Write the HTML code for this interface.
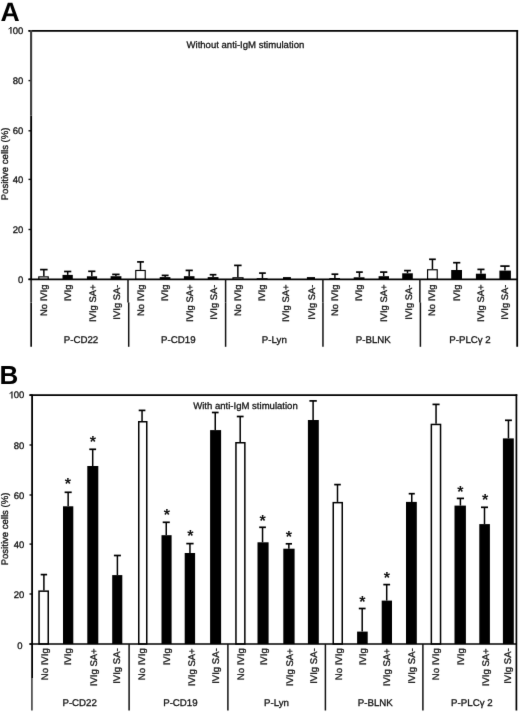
<!DOCTYPE html>
<html><head><meta charset="utf-8"><style>
html,body{margin:0;padding:0;background:#fff;}
body{width:520px;height:713px;overflow:hidden;}
svg{display:block;font-family:"Liberation Sans", sans-serif;will-change:transform;text-rendering:geometricPrecision;}
.t{stroke:#111;stroke-width:0.3px;}
</style></head><body>
<svg width="520" height="713" viewBox="0 0 520 713">
<defs><filter id="bl" x="0" y="0" width="520" height="713" filterUnits="userSpaceOnUse" color-interpolation-filters="sRGB"><feConvolveMatrix order="3" kernelMatrix="0.00524 0.06192 0.00524 0.06192 0.73137 0.06192 0.00524 0.06192 0.00524" divisor="1" edgeMode="duplicate"/></filter></defs>
<rect width="520" height="713" fill="#fff"/>
<g filter="url(#bl)">
<rect width="520" height="713" fill="#fff"/>
<line x1="28.5" y1="30.8" x2="31.1" y2="30.8" stroke="#111" stroke-width="1.4"/>
<text transform="translate(23.40,33.75) scale(1,1.0)" text-anchor="end" font-size="9.5" fill="#111" class="t">00</text>
<path d="M10.97,27.00V33.85" stroke="#111" stroke-width="1.2" fill="none"/>
<path d="M10.87,27.20C10.17,28.30 9.27,28.80 8.57,29.00" stroke="#111" stroke-width="1.0" fill="none"/>
<line x1="28.5" y1="80.6" x2="31.1" y2="80.6" stroke="#111" stroke-width="1.4"/>
<text transform="translate(23.40,83.85) scale(1,1.0)" text-anchor="end" font-size="9.5" fill="#111" class="t">80</text>
<line x1="28.5" y1="130.8" x2="31.1" y2="130.8" stroke="#111" stroke-width="1.4"/>
<text transform="translate(23.40,134.35) scale(1,1.0)" text-anchor="end" font-size="9.5" fill="#111" class="t">60</text>
<line x1="28.5" y1="179.4" x2="31.1" y2="179.4" stroke="#111" stroke-width="1.4"/>
<text transform="translate(23.40,183.00) scale(1,1.0)" text-anchor="end" font-size="9.5" fill="#111" class="t">40</text>
<line x1="28.5" y1="229.5" x2="31.1" y2="229.5" stroke="#111" stroke-width="1.4"/>
<text transform="translate(23.40,233.20) scale(1,1.0)" text-anchor="end" font-size="9.5" fill="#111" class="t">20</text>
<line x1="28.5" y1="279.3" x2="31.1" y2="279.3" stroke="#111" stroke-width="1.4"/>
<text transform="translate(23.40,282.90) scale(1,1.0)" text-anchor="end" font-size="9.5" fill="#111" class="t">0</text>
<text transform="translate(8.30,163.90) rotate(-90) scale(1,1.0)" text-anchor="middle" font-size="9.55" fill="#111" class="t">Positive cells (%)</text>
<text transform="translate(186.50,47.60) scale(1,1.0)" font-size="9.55" fill="#111" class="t">Without anti-IgM stimulation</text>
<line x1="43.85" y1="269.6" x2="43.85" y2="276.3" stroke="#000" stroke-width="1.5"/>
<line x1="40.1" y1="269.6" x2="47.6" y2="269.6" stroke="#000" stroke-width="1.7"/>
<rect x="38.78" y="276.88" width="9.45" height="2.48" fill="#fff" stroke="#000" stroke-width="1.15"/>
<text transform="translate(46.50,284.50) rotate(-90) scale(1,1.0)" text-anchor="end" font-size="9.45" fill="#111" class="t">No IVIg</text>
<line x1="67.69999999999999" y1="271.5" x2="67.69999999999999" y2="274.9" stroke="#000" stroke-width="1.5"/>
<line x1="64.1" y1="271.5" x2="71.3" y2="271.5" stroke="#000" stroke-width="1.7"/>
<rect x="62.5" y="274.9" width="10.30" height="4.45" fill="#000"/>
<text transform="translate(71.05,284.50) rotate(-90) scale(1,1.0)" text-anchor="end" font-size="9.45" fill="#111" class="t">IVIg</text>
<line x1="91.80000000000001" y1="271.3" x2="91.80000000000001" y2="276.3" stroke="#000" stroke-width="1.5"/>
<line x1="88.2" y1="271.3" x2="95.4" y2="271.3" stroke="#000" stroke-width="1.7"/>
<rect x="86.9" y="276.3" width="10.20" height="3.05" fill="#000"/>
<text transform="translate(95.60,284.50) rotate(-90) scale(1,1.0)" text-anchor="end" font-size="9.45" fill="#111" class="t">IVIg SA+</text>
<line x1="115.9" y1="274.4" x2="115.9" y2="276.2" stroke="#000" stroke-width="1.5"/>
<line x1="112.2" y1="274.4" x2="119.6" y2="274.4" stroke="#000" stroke-width="1.7"/>
<rect x="110.6" y="276.2" width="10.80" height="3.15" fill="#000"/>
<text transform="translate(119.70,284.50) rotate(-90) scale(1,1.0)" text-anchor="end" font-size="9.45" fill="#111" class="t">IVIg SA-</text>
<line x1="140.5" y1="261.9" x2="140.5" y2="269.9" stroke="#000" stroke-width="1.5"/>
<line x1="137.1" y1="261.9" x2="143.9" y2="261.9" stroke="#000" stroke-width="1.7"/>
<rect x="135.77" y="270.47" width="9.45" height="8.88" fill="#fff" stroke="#000" stroke-width="1.15"/>
<text transform="translate(143.90,284.50) rotate(-90) scale(1,1.0)" text-anchor="end" font-size="9.45" fill="#111" class="t">No IVIg</text>
<line x1="165.14999999999998" y1="275.4" x2="165.14999999999998" y2="277.1" stroke="#000" stroke-width="1.5"/>
<line x1="161.7" y1="275.4" x2="168.6" y2="275.4" stroke="#000" stroke-width="1.7"/>
<rect x="159.7" y="277.1" width="10.70" height="2.25" fill="#000"/>
<text transform="translate(168.20,284.50) rotate(-90) scale(1,1.0)" text-anchor="end" font-size="9.45" fill="#111" class="t">IVIg</text>
<line x1="189.2" y1="270.4" x2="189.2" y2="276.2" stroke="#000" stroke-width="1.5"/>
<line x1="185.6" y1="270.4" x2="192.8" y2="270.4" stroke="#000" stroke-width="1.7"/>
<rect x="183.9" y="276.2" width="10.60" height="3.15" fill="#000"/>
<text transform="translate(192.90,284.50) rotate(-90) scale(1,1.0)" text-anchor="end" font-size="9.45" fill="#111" class="t">IVIg SA+</text>
<line x1="213.05" y1="274.7" x2="213.05" y2="277.1" stroke="#000" stroke-width="1.5"/>
<line x1="209.7" y1="274.7" x2="216.4" y2="274.7" stroke="#000" stroke-width="1.7"/>
<rect x="207.7" y="277.1" width="10.80" height="2.25" fill="#000"/>
<text transform="translate(216.65,284.50) rotate(-90) scale(1,1.0)" text-anchor="end" font-size="9.45" fill="#111" class="t">IVIg SA-</text>
<line x1="237.85" y1="265.4" x2="237.85" y2="277.2" stroke="#000" stroke-width="1.5"/>
<line x1="234.1" y1="265.4" x2="241.6" y2="265.4" stroke="#000" stroke-width="1.7"/>
<rect x="232.97" y="277.77" width="10.05" height="1.58" fill="#fff" stroke="#000" stroke-width="1.15"/>
<text transform="translate(241.10,284.50) rotate(-90) scale(1,1.0)" text-anchor="end" font-size="9.45" fill="#111" class="t">No IVIg</text>
<line x1="262.45000000000005" y1="273.1" x2="262.45000000000005" y2="278.2" stroke="#000" stroke-width="1.5"/>
<line x1="259.1" y1="273.1" x2="265.8" y2="273.1" stroke="#000" stroke-width="1.7"/>
<rect x="256.7" y="278.2" width="10.90" height="1.15" fill="#000"/>
<text transform="translate(265.40,284.50) rotate(-90) scale(1,1.0)" text-anchor="end" font-size="9.45" fill="#111" class="t">IVIg</text>
<rect x="283.0" y="277.1" width="7.90" height="2.25" fill="#000"/>
<text transform="translate(289.20,284.50) rotate(-90) scale(1,1.0)" text-anchor="end" font-size="9.45" fill="#111" class="t">IVIg SA+</text>
<rect x="306.9" y="277.1" width="8.10" height="2.25" fill="#000"/>
<text transform="translate(314.50,284.50) rotate(-90) scale(1,1.0)" text-anchor="end" font-size="9.45" fill="#111" class="t">IVIg SA-</text>
<line x1="334.9" y1="274.2" x2="334.9" y2="278.1" stroke="#000" stroke-width="1.5"/>
<line x1="331.5" y1="274.2" x2="338.3" y2="274.2" stroke="#000" stroke-width="1.7"/>
<rect x="329.88" y="278.68" width="9.55" height="0.68" fill="#fff" stroke="#000" stroke-width="1.15"/>
<text transform="translate(338.30,284.50) rotate(-90) scale(1,1.0)" text-anchor="end" font-size="9.45" fill="#111" class="t">No IVIg</text>
<line x1="359.45000000000005" y1="272.1" x2="359.45000000000005" y2="277.3" stroke="#000" stroke-width="1.5"/>
<line x1="356.1" y1="272.1" x2="362.8" y2="272.1" stroke="#000" stroke-width="1.7"/>
<rect x="353.7" y="277.3" width="10.80" height="2.05" fill="#000"/>
<text transform="translate(362.20,284.50) rotate(-90) scale(1,1.0)" text-anchor="end" font-size="9.45" fill="#111" class="t">IVIg</text>
<line x1="383.70000000000005" y1="272.1" x2="383.70000000000005" y2="276.2" stroke="#000" stroke-width="1.5"/>
<line x1="380.1" y1="272.1" x2="387.3" y2="272.1" stroke="#000" stroke-width="1.7"/>
<rect x="378.6" y="276.2" width="10.40" height="3.15" fill="#000"/>
<text transform="translate(386.90,284.50) rotate(-90) scale(1,1.0)" text-anchor="end" font-size="9.45" fill="#111" class="t">IVIg SA+</text>
<line x1="407.5" y1="270.6" x2="407.5" y2="273.3" stroke="#000" stroke-width="1.5"/>
<line x1="404.1" y1="270.6" x2="410.9" y2="270.6" stroke="#000" stroke-width="1.7"/>
<rect x="402.2" y="273.3" width="10.60" height="6.05" fill="#000"/>
<text transform="translate(411.80,284.50) rotate(-90) scale(1,1.0)" text-anchor="end" font-size="9.45" fill="#111" class="t">IVIg SA-</text>
<line x1="432.45000000000005" y1="259.3" x2="432.45000000000005" y2="269.2" stroke="#000" stroke-width="1.5"/>
<line x1="429.1" y1="259.3" x2="435.8" y2="259.3" stroke="#000" stroke-width="1.7"/>
<rect x="427.57" y="269.77" width="9.65" height="9.58" fill="#fff" stroke="#000" stroke-width="1.15"/>
<text transform="translate(434.80,284.50) rotate(-90) scale(1,1.0)" text-anchor="end" font-size="9.45" fill="#111" class="t">No IVIg</text>
<line x1="456.70000000000005" y1="262.7" x2="456.70000000000005" y2="270.0" stroke="#000" stroke-width="1.5"/>
<line x1="453.1" y1="262.7" x2="460.3" y2="262.7" stroke="#000" stroke-width="1.7"/>
<rect x="451.2" y="270.0" width="10.80" height="9.35" fill="#000"/>
<text transform="translate(459.65,284.50) rotate(-90) scale(1,1.0)" text-anchor="end" font-size="9.45" fill="#111" class="t">IVIg</text>
<line x1="480.95" y1="269.4" x2="480.95" y2="273.7" stroke="#000" stroke-width="1.5"/>
<line x1="477.4" y1="269.4" x2="484.5" y2="269.4" stroke="#000" stroke-width="1.7"/>
<rect x="475.9" y="273.7" width="10.00" height="5.65" fill="#000"/>
<text transform="translate(484.40,284.50) rotate(-90) scale(1,1.0)" text-anchor="end" font-size="9.45" fill="#111" class="t">IVIg SA+</text>
<line x1="504.95000000000005" y1="266.1" x2="504.95000000000005" y2="270.6" stroke="#000" stroke-width="1.5"/>
<line x1="500.3" y1="266.1" x2="509.6" y2="266.1" stroke="#000" stroke-width="1.7"/>
<rect x="499.4" y="270.6" width="11.50" height="8.75" fill="#000"/>
<text transform="translate(508.40,284.50) rotate(-90) scale(1,1.0)" text-anchor="end" font-size="9.45" fill="#111" class="t">IVIg SA-</text>
<line x1="28.5" y1="30.8" x2="518.1" y2="30.8" stroke="#000" stroke-width="1.8"/>
<line x1="31.1" y1="30.0" x2="31.1" y2="115.6" stroke="#3c3c3c" stroke-width="2.1"/>
<line x1="31.150000000000002" y1="115.6" x2="31.150000000000002" y2="280" stroke="#000" stroke-width="1.9"/>
<line x1="31.150000000000002" y1="280" x2="31.150000000000002" y2="302.4" stroke="#333" stroke-width="1.8"/>
<line x1="31.150000000000002" y1="302.4" x2="31.150000000000002" y2="346.8" stroke="#000" stroke-width="1.6"/>
<line x1="517.2" y1="29.900000000000002" x2="517.2" y2="346.8" stroke="#000" stroke-width="1.8"/>
<line x1="28.5" y1="279.35" x2="517.2" y2="279.35" stroke="#000" stroke-width="1.8"/>
<line x1="128.0" y1="279.35" x2="128.0" y2="302.4" stroke="#111" stroke-width="1.5"/>
<line x1="128.7" y1="302.4" x2="128.7" y2="346.8" stroke="#111" stroke-width="1.5"/>
<line x1="225.6" y1="279.35" x2="225.6" y2="302.4" stroke="#111" stroke-width="1.5"/>
<line x1="225.6" y1="302.4" x2="225.6" y2="346.8" stroke="#111" stroke-width="1.5"/>
<line x1="322.9" y1="279.35" x2="322.9" y2="302.4" stroke="#111" stroke-width="1.5"/>
<line x1="322.95" y1="302.4" x2="322.95" y2="346.8" stroke="#111" stroke-width="1.5"/>
<line x1="419.9" y1="279.35" x2="419.9" y2="302.4" stroke="#111" stroke-width="1.5"/>
<line x1="420.4" y1="302.4" x2="420.4" y2="346.8" stroke="#111" stroke-width="1.5"/>
<text transform="translate(80.95,342.80) scale(1,1.0)" text-anchor="middle" font-size="9.7" fill="#111" class="t">P-CD22</text>
<text transform="translate(178.30,342.80) scale(1,1.0)" text-anchor="middle" font-size="9.7" fill="#111" class="t">P-CD19</text>
<text transform="translate(274.30,342.80) scale(1,1.0)" text-anchor="middle" font-size="9.7" fill="#111" class="t">P-Lyn</text>
<text transform="translate(373.30,342.80) scale(1,1.0)" text-anchor="middle" font-size="9.7" fill="#111" class="t">P-BLNK</text>
<text transform="translate(470.00,342.80) scale(1,1.0)" text-anchor="middle" font-size="9.7" fill="#111" class="t">P-PLCγ 2</text>
<text x="0.45" y="20.75" font-size="26.6" font-weight="bold" fill="#000">A</text>
<line x1="29.5" y1="395.1" x2="32.1" y2="395.1" stroke="#111" stroke-width="1.4"/>
<text transform="translate(24.40,398.35) scale(1,1.0)" text-anchor="end" font-size="9.5" fill="#111" class="t">00</text>
<path d="M11.97,391.60V398.45" stroke="#111" stroke-width="1.2" fill="none"/>
<path d="M11.87,391.80C11.17,392.90 10.27,393.40 9.57,393.60" stroke="#111" stroke-width="1.0" fill="none"/>
<line x1="29.5" y1="445.0" x2="32.1" y2="445.0" stroke="#111" stroke-width="1.4"/>
<text transform="translate(24.40,448.75) scale(1,1.0)" text-anchor="end" font-size="9.5" fill="#111" class="t">80</text>
<line x1="29.5" y1="495.0" x2="32.1" y2="495.0" stroke="#111" stroke-width="1.4"/>
<text transform="translate(24.40,498.80) scale(1,1.0)" text-anchor="end" font-size="9.5" fill="#111" class="t">60</text>
<line x1="29.5" y1="544.1" x2="32.1" y2="544.1" stroke="#111" stroke-width="1.4"/>
<text transform="translate(24.40,547.75) scale(1,1.0)" text-anchor="end" font-size="9.5" fill="#111" class="t">40</text>
<line x1="29.5" y1="594.0" x2="32.1" y2="594.0" stroke="#111" stroke-width="1.4"/>
<text transform="translate(24.40,597.90) scale(1,1.0)" text-anchor="end" font-size="9.5" fill="#111" class="t">20</text>
<line x1="29.5" y1="644.1" x2="32.1" y2="644.1" stroke="#111" stroke-width="1.4"/>
<text transform="translate(22.50,648.95) scale(1,1.0)" text-anchor="end" font-size="9.5" fill="#111" class="t">0</text>
<text transform="translate(8.30,529.00) rotate(-90) scale(1,1.0)" text-anchor="middle" font-size="9.55" fill="#111" class="t">Positive cells (%)</text>
<text transform="translate(193.20,408.90) scale(1,1.0)" font-size="9.55" fill="#111" class="t">With anti-IgM stimulation</text>
<line x1="43.900000000000006" y1="574.6" x2="43.900000000000006" y2="590.4" stroke="#000" stroke-width="1.5"/>
<line x1="40.7" y1="574.6" x2="47.1" y2="574.6" stroke="#000" stroke-width="1.7"/>
<rect x="39.05" y="591.15" width="9.20" height="52.85" fill="#fff" stroke="#000" stroke-width="1.5"/>
<text transform="translate(47.75,648.30) rotate(-90) scale(1,1.0)" text-anchor="end" font-size="9.55" fill="#111" class="t">No IVIg</text>
<line x1="68.15" y1="492.3" x2="68.15" y2="506.3" stroke="#000" stroke-width="1.5"/>
<line x1="64.6" y1="492.3" x2="71.7" y2="492.3" stroke="#000" stroke-width="1.7"/>
<rect x="63.0" y="506.3" width="10.30" height="137.70" fill="#000"/>
<text x="67.9" y="488.85" text-anchor="middle" font-size="16" font-weight="bold" fill="#111">*</text>
<text transform="translate(71.20,648.30) rotate(-90) scale(1,1.0)" text-anchor="end" font-size="9.55" fill="#111" class="t">IVIg</text>
<line x1="92.69999999999999" y1="449.3" x2="92.69999999999999" y2="466.0" stroke="#000" stroke-width="1.5"/>
<line x1="89.3" y1="449.3" x2="96.1" y2="449.3" stroke="#000" stroke-width="1.7"/>
<rect x="87.3" y="466.0" width="11.00" height="178.00" fill="#000"/>
<text x="92.9" y="447.35" text-anchor="middle" font-size="16" font-weight="bold" fill="#111">*</text>
<text transform="translate(96.80,648.30) rotate(-90) scale(1,1.0)" text-anchor="end" font-size="9.55" fill="#111" class="t">IVIg SA+</text>
<line x1="117.4" y1="555.5" x2="117.4" y2="575.1" stroke="#000" stroke-width="1.5"/>
<line x1="113.9" y1="555.5" x2="120.9" y2="555.5" stroke="#000" stroke-width="1.7"/>
<rect x="112.2" y="575.1" width="10.10" height="68.90" fill="#000"/>
<text transform="translate(119.90,648.30) rotate(-90) scale(1,1.0)" text-anchor="end" font-size="9.55" fill="#111" class="t">IVIg SA-</text>
<line x1="142.05" y1="410.4" x2="142.05" y2="421.0" stroke="#000" stroke-width="1.5"/>
<line x1="138.7" y1="410.4" x2="145.4" y2="410.4" stroke="#000" stroke-width="1.7"/>
<rect x="138.75" y="421.75" width="8.00" height="222.25" fill="#fff" stroke="#000" stroke-width="1.5"/>
<text transform="translate(144.75,648.30) rotate(-90) scale(1,1.0)" text-anchor="end" font-size="9.55" fill="#111" class="t">No IVIg</text>
<line x1="166.25" y1="522.3" x2="166.25" y2="535.2" stroke="#000" stroke-width="1.5"/>
<line x1="162.7" y1="522.3" x2="169.8" y2="522.3" stroke="#000" stroke-width="1.7"/>
<rect x="161.5" y="535.2" width="10.10" height="108.80" fill="#000"/>
<text x="166.9" y="520.35" text-anchor="middle" font-size="16" font-weight="bold" fill="#111">*</text>
<text transform="translate(169.85,648.30) rotate(-90) scale(1,1.0)" text-anchor="end" font-size="9.55" fill="#111" class="t">IVIg</text>
<line x1="189.95" y1="543.6" x2="189.95" y2="553.0" stroke="#000" stroke-width="1.5"/>
<line x1="186.3" y1="543.6" x2="193.6" y2="543.6" stroke="#000" stroke-width="1.7"/>
<rect x="184.7" y="553.0" width="10.40" height="91.00" fill="#000"/>
<text x="190.25" y="540.75" text-anchor="middle" font-size="16" font-weight="bold" fill="#111">*</text>
<text transform="translate(195.05,648.30) rotate(-90) scale(1,1.0)" text-anchor="end" font-size="9.55" fill="#111" class="t">IVIg SA+</text>
<line x1="215.25" y1="412.5" x2="215.25" y2="430.1" stroke="#000" stroke-width="1.5"/>
<line x1="211.9" y1="412.5" x2="218.6" y2="412.5" stroke="#000" stroke-width="1.7"/>
<rect x="210.1" y="430.1" width="11.00" height="213.90" fill="#000"/>
<text transform="translate(219.25,648.30) rotate(-90) scale(1,1.0)" text-anchor="end" font-size="9.55" fill="#111" class="t">IVIg SA-</text>
<line x1="240.2" y1="416.5" x2="240.2" y2="442.0" stroke="#000" stroke-width="1.5"/>
<line x1="236.8" y1="416.5" x2="243.6" y2="416.5" stroke="#000" stroke-width="1.7"/>
<rect x="235.95" y="442.75" width="8.90" height="201.25" fill="#fff" stroke="#000" stroke-width="1.5"/>
<text transform="translate(244.20,648.30) rotate(-90) scale(1,1.0)" text-anchor="end" font-size="9.55" fill="#111" class="t">No IVIg</text>
<line x1="262.54999999999995" y1="527.3" x2="262.54999999999995" y2="542.3" stroke="#000" stroke-width="1.5"/>
<line x1="259.2" y1="527.3" x2="265.9" y2="527.3" stroke="#000" stroke-width="1.7"/>
<rect x="257.5" y="542.3" width="11.10" height="101.70" fill="#000"/>
<text x="262.6" y="526.15" text-anchor="middle" font-size="16" font-weight="bold" fill="#111">*</text>
<text transform="translate(266.95,648.30) rotate(-90) scale(1,1.0)" text-anchor="end" font-size="9.55" fill="#111" class="t">IVIg</text>
<line x1="288.85" y1="543.8" x2="288.85" y2="548.7" stroke="#000" stroke-width="1.5"/>
<line x1="285.7" y1="543.8" x2="292.0" y2="543.8" stroke="#000" stroke-width="1.7"/>
<rect x="283.3" y="548.7" width="11.30" height="95.30" fill="#000"/>
<text x="288.85" y="541.55" text-anchor="middle" font-size="16" font-weight="bold" fill="#111">*</text>
<text transform="translate(292.80,648.30) rotate(-90) scale(1,1.0)" text-anchor="end" font-size="9.55" fill="#111" class="t">IVIg SA+</text>
<line x1="313.1" y1="400.9" x2="313.1" y2="420.0" stroke="#000" stroke-width="1.5"/>
<line x1="309.4" y1="400.9" x2="316.8" y2="400.9" stroke="#000" stroke-width="1.7"/>
<rect x="307.9" y="420.0" width="10.90" height="224.00" fill="#000"/>
<text transform="translate(316.80,648.30) rotate(-90) scale(1,1.0)" text-anchor="end" font-size="9.55" fill="#111" class="t">IVIg SA-</text>
<line x1="337.5" y1="484.6" x2="337.5" y2="501.9" stroke="#000" stroke-width="1.5"/>
<line x1="334.2" y1="484.6" x2="340.8" y2="484.6" stroke="#000" stroke-width="1.7"/>
<rect x="333.25" y="502.65" width="9.00" height="141.35" fill="#fff" stroke="#000" stroke-width="1.5"/>
<text transform="translate(341.75,648.30) rotate(-90) scale(1,1.0)" text-anchor="end" font-size="9.55" fill="#111" class="t">No IVIg</text>
<line x1="362.20000000000005" y1="608.5" x2="362.20000000000005" y2="631.6" stroke="#000" stroke-width="1.5"/>
<line x1="358.8" y1="608.5" x2="365.6" y2="608.5" stroke="#000" stroke-width="1.7"/>
<rect x="357.1" y="631.6" width="10.60" height="12.40" fill="#000"/>
<text x="362.3" y="606.95" text-anchor="middle" font-size="16" font-weight="bold" fill="#111">*</text>
<text transform="translate(365.85,648.30) rotate(-90) scale(1,1.0)" text-anchor="end" font-size="9.55" fill="#111" class="t">IVIg</text>
<line x1="386.70000000000005" y1="584.6" x2="386.70000000000005" y2="600.6" stroke="#000" stroke-width="1.5"/>
<line x1="383.3" y1="584.6" x2="390.1" y2="584.6" stroke="#000" stroke-width="1.7"/>
<rect x="381.7" y="600.6" width="10.30" height="43.40" fill="#000"/>
<text x="386.75" y="582.75" text-anchor="middle" font-size="16" font-weight="bold" fill="#111">*</text>
<text transform="translate(390.45,648.30) rotate(-90) scale(1,1.0)" text-anchor="end" font-size="9.55" fill="#111" class="t">IVIg SA+</text>
<line x1="411.75" y1="493.7" x2="411.75" y2="501.9" stroke="#000" stroke-width="1.5"/>
<line x1="408.7" y1="493.7" x2="414.8" y2="493.7" stroke="#000" stroke-width="1.7"/>
<rect x="406.0" y="501.9" width="10.80" height="142.10" fill="#000"/>
<text transform="translate(414.80,648.30) rotate(-90) scale(1,1.0)" text-anchor="end" font-size="9.55" fill="#111" class="t">IVIg SA-</text>
<line x1="436.05" y1="404.4" x2="436.05" y2="423.7" stroke="#000" stroke-width="1.5"/>
<line x1="432.5" y1="404.4" x2="439.6" y2="404.4" stroke="#000" stroke-width="1.7"/>
<rect x="431.35" y="424.45" width="9.20" height="219.55" fill="#fff" stroke="#000" stroke-width="1.5"/>
<text transform="translate(438.90,648.30) rotate(-90) scale(1,1.0)" text-anchor="end" font-size="9.55" fill="#111" class="t">No IVIg</text>
<line x1="460.4" y1="498.4" x2="460.4" y2="505.6" stroke="#000" stroke-width="1.5"/>
<line x1="456.8" y1="498.4" x2="464.0" y2="498.4" stroke="#000" stroke-width="1.7"/>
<rect x="454.5" y="505.6" width="11.40" height="138.40" fill="#000"/>
<text x="460.3" y="496.90" text-anchor="middle" font-size="16" font-weight="bold" fill="#111">*</text>
<text transform="translate(463.50,648.30) rotate(-90) scale(1,1.0)" text-anchor="end" font-size="9.55" fill="#111" class="t">IVIg</text>
<line x1="484.5" y1="507.3" x2="484.5" y2="524.1" stroke="#000" stroke-width="1.5"/>
<line x1="481.0" y1="507.3" x2="488.0" y2="507.3" stroke="#000" stroke-width="1.7"/>
<rect x="479.3" y="524.1" width="10.60" height="119.90" fill="#000"/>
<text x="485.1" y="504.85" text-anchor="middle" font-size="16" font-weight="bold" fill="#111">*</text>
<text transform="translate(488.95,648.30) rotate(-90) scale(1,1.0)" text-anchor="end" font-size="9.55" fill="#111" class="t">IVIg SA+</text>
<line x1="508.45" y1="420.3" x2="508.45" y2="438.4" stroke="#000" stroke-width="1.5"/>
<line x1="505.0" y1="420.3" x2="511.9" y2="420.3" stroke="#000" stroke-width="1.7"/>
<rect x="502.9" y="438.4" width="10.90" height="205.60" fill="#000"/>
<text transform="translate(510.75,648.30) rotate(-90) scale(1,1.0)" text-anchor="end" font-size="9.55" fill="#111" class="t">IVIg SA-</text>
<line x1="29.5" y1="395.2" x2="517.25" y2="395.2" stroke="#000" stroke-width="1.7"/>
<line x1="32.1" y1="394.4" x2="32.1" y2="678" stroke="#000" stroke-width="1.8"/>
<line x1="31.900000000000002" y1="678" x2="31.900000000000002" y2="710.5" stroke="#555" stroke-width="1.8"/>
<line x1="516.4" y1="394.34999999999997" x2="516.4" y2="710.5" stroke="#000" stroke-width="1.7"/>
<line x1="29.5" y1="644" x2="516.4" y2="644" stroke="#000" stroke-width="1.7"/>
<line x1="129.1" y1="644" x2="129.1" y2="710.5" stroke="#111" stroke-width="1.5"/>
<line x1="227.9" y1="644" x2="227.9" y2="710.5" stroke="#111" stroke-width="1.5"/>
<line x1="325.4" y1="644" x2="325.4" y2="710.5" stroke="#111" stroke-width="1.5"/>
<line x1="422.9" y1="644" x2="422.9" y2="710.5" stroke="#111" stroke-width="1.5"/>
<text transform="translate(79.65,705.60) scale(1,1.0)" text-anchor="middle" font-size="9.7" fill="#111" class="t">P-CD22</text>
<text transform="translate(180.40,705.60) scale(1,1.0)" text-anchor="middle" font-size="9.7" fill="#111" class="t">P-CD19</text>
<text transform="translate(276.50,705.60) scale(1,1.0)" text-anchor="middle" font-size="9.7" fill="#111" class="t">P-Lyn</text>
<text transform="translate(375.25,705.60) scale(1,1.0)" text-anchor="middle" font-size="9.7" fill="#111" class="t">P-BLNK</text>
<text transform="translate(471.85,705.60) scale(1,1.0)" text-anchor="middle" font-size="9.7" fill="#111" class="t">P-PLCγ 2</text>
<text x="-0.4" y="383.6" font-size="26" font-weight="bold" fill="#000">B</text>
</g>
</svg>
</body></html>
